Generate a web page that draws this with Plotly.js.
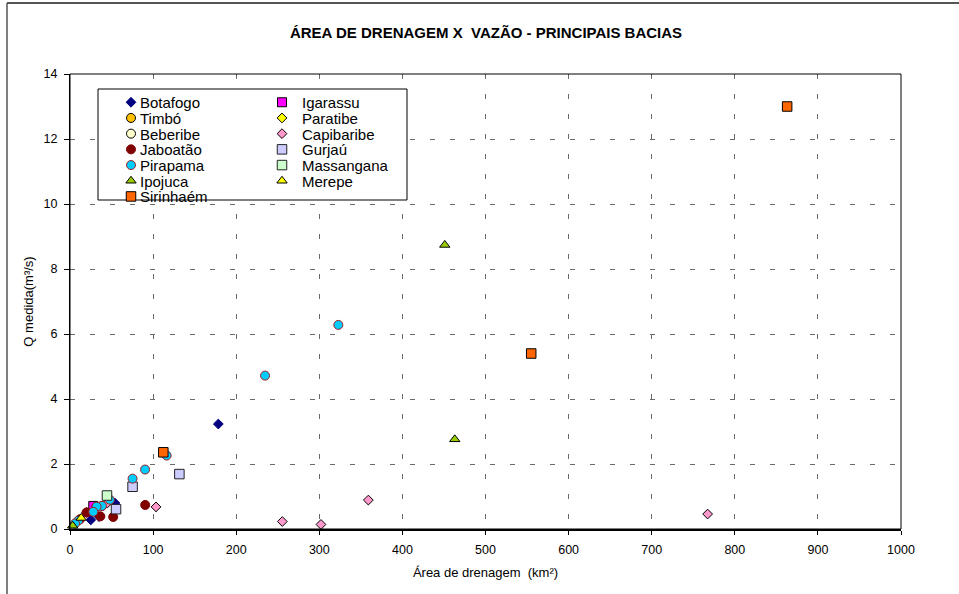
<!DOCTYPE html>
<html>
<head>
<meta charset="utf-8">
<script src="https://cdn.plot.ly/plotly-3.0.1.min.js"></script>
<style>
  html, body { margin: 0; padding: 0; background: #fff; }
  #chart { width: 959px; height: 594px; }
</style>
</head>
<body>
<div id="chart"></div>
<script>
// ---- Data (área de drenagem km², vazão medida m³/s) ----
const seriesNames = ["Botafogo","Igarassu","Timbó","Paratibe","Beberibe","Capibaribe","Jaboatão","Gurjaú","Pirapama","Massangana","Ipojuca","Merepe","Sirinhaém"];

const botafogoX   = [178.5, 54, 25, 35];
const botafogoY   = [3.23, 0.80, 0.28, 0.38];
const igarassuX   = [28];
const igarassuY   = [0.71];
const timboX      = [32];
const timboY      = [0.69];
const paratibeX   = [20];
const paratibeY   = [0.51];
const beberibeX   = [38.5];
const beberibeY   = [0.71];
const capibaribeX = [103.5, 255.5, 302, 359, 767.3, 45];
const capibaribeY = [0.68, 0.23, 0.14, 0.89, 0.46, 0.80];
const jaboataoX   = [90.5, 52, 36.5, 20, 12];
const jaboataoY   = [0.74, 0.37, 0.39, 0.51, 0.30];
const gurjauX     = [131.6, 75.3, 55.4];
const gurjauY     = [1.69, 1.30, 0.61];
const pirapamaX   = [322.9, 234.7, 116.3, 90.3, 75.3, 48, 38.5, 32, 28, 10, 6];
const pirapamaY   = [6.28, 4.72, 2.26, 1.83, 1.55, 0.90, 0.71, 0.69, 0.53, 0.26, 0.17];
const massanganaX = [44.5];
const massanganaY = [1.03];
const ipojucaX    = [451, 463, 3.2];
const ipojucaY    = [8.74, 2.76, 0.10];
const merepeX     = [13.5];
const merepeY     = [0.34];
const sirinhaemX  = [863, 555, 112.3];
const sirinhaemY  = [13.0, 5.40, 2.36];

const xTickVals = [0,100,200,300,400,500,600,700,800,900,1000];
const yTickVals = [0,2,4,6,8,10,12,14];

// ---- Styles ----
const FONT = "Liberation Sans, Arial, Helvetica, sans-serif";
function tr(name, x, y, symbol, size, color, lineColor, legendId) {
  return {
    type: "scatter", mode: "markers", name: name, x: x, y: y,
    legend: legendId,
    marker: { symbol: symbol, size: size, color: color, line: { color: lineColor, width: 1 } },
    cliponaxis: false
  };
}
const traces = [
  tr(seriesNames[0],  botafogoX,   botafogoY,   "diamond",     7.5, "#000080", "#000080", "legend"),
  tr(seriesNames[1],  igarassuX,   igarassuY,   "square",      9,   "#FF00FF", "#000000", "legend2"),
  tr(seriesNames[2],  timboX,      timboY,      "circle",      9,   "#FFC000", "#000000", "legend"),
  tr(seriesNames[3],  paratibeX,   paratibeY,   "diamond",     7.5, "#FFFF00", "#000000", "legend2"),
  tr(seriesNames[4],  beberibeX,   beberibeY,   "circle",      9,   "#FFFFCC", "#000000", "legend"),
  tr(seriesNames[5],  capibaribeX, capibaribeY, "diamond",     7.5, "#FF99CC", "#000000", "legend2"),
  tr(seriesNames[6],  jaboataoX,   jaboataoY,   "circle",      9,   "#800000", "#800000", "legend"),
  tr(seriesNames[7],  gurjauX,     gurjauY,     "square",      9.5, "#CCCCFF", "#222222", "legend2"),
  tr(seriesNames[8],  pirapamaX,   pirapamaY,   "circle",      9,   "#00CCFF", "#A02020", "legend"),
  tr(seriesNames[9],  massanganaX, massanganaY, "square",      9.5, "#CCFFCC", "#222222", "legend2"),
  tr(seriesNames[10], ipojucaX,    ipojucaY,    "triangle-up", 9,   "#99CC00", "#000000", "legend"),
  tr(seriesNames[11], merepeX,     merepeY,     "triangle-up", 9,   "#FFFF00", "#000000", "legend2"),
  tr(seriesNames[12], sirinhaemX,  sirinhaemY,  "square",      9.5, "#FF6600", "#000000", "legend")
];

// plot area in px: x 70..901, y 74..529
const PL = 70, PR = 901, PT = 74, PB = 529;
const px2x = p => (p - PL) / (PR - PL);
const px2y = p => (PB - p) / (PB - PT);

const gridStyle = { showgrid: true, gridcolor: "#6a6a6a", gridwidth: 1, griddash: "5px,15px" };

const layout = {
  width: 959, height: 594,
  margin: { l: PL, r: 959 - PR, t: PT, b: 594 - PB, pad: 0 },
  paper_bgcolor: "#ffffff", plot_bgcolor: "#ffffff",
  font: { family: FONT, size: 12, color: "#000000" },
  showlegend: true,
  title: {
    text: "<b>ÁREA DE DRENAGEM X  VAZÃO - PRINCIPAIS BACIAS</b>",
    font: { family: FONT, size: 15, color: "#000000" },
    x: px2x(486), xref: "paper", xanchor: "center",
    y: 1 - 33 / 594, yref: "container", yanchor: "middle"
  },
  xaxis: Object.assign({
    range: [0, 1000], tickvals: xTickVals, ticktext: xTickVals.map(String),
    ticks: "outside", ticklen: 4, tickcolor: "#000", tickwidth: 1, ticklabelstandoff: 4,
    showline: true, linecolor: "#000000", linewidth: 2,
    zeroline: false, automargin: false,
    tickfont: { family: FONT, size: 12.5, color: "#000" },
    title: { text: "Área de drenagem  (km²)", font: { family: FONT, size: 13, color: "#000" }, standoff: 12 }
  }, gridStyle),
  yaxis: Object.assign({
    range: [0, 14], tickvals: yTickVals, ticktext: yTickVals.map(String),
    ticks: "outside", ticklen: 5, tickcolor: "#000", tickwidth: 1, ticklabelstandoff: 4,
    showline: true, linecolor: "#000000", linewidth: 1,
    zeroline: false, automargin: false,
    tickfont: { family: FONT, size: 12.5, color: "#000" },
    title: { text: "Q medida(m³/s)", font: { family: FONT, size: 13, color: "#000" }, standoff: 7 }
  }, gridStyle),
  legend: {
    x: px2x(111), xanchor: "left", y: px2y(86), yanchor: "top",
    bgcolor: "rgba(0,0,0,0)", borderwidth: 0,
    font: { family: FONT, size: 15, color: "#000" }, traceorder: "normal"
  },
  legend2: {
    x: px2x(262), xanchor: "left", y: px2y(86), yanchor: "top",
    bgcolor: "rgba(0,0,0,0)", borderwidth: 0,
    font: { family: FONT, size: 15, color: "#000" }, traceorder: "normal"
  },
  shapes: [
    // plot frame (top & right)
    { type: "rect", xref: "paper", yref: "paper", x0: 0, x1: 1, y0: 0, y1: 1,
      line: { color: "#000000", width: 1 }, layer: "above" },
    // legend box
    { type: "rect", xref: "paper", yref: "paper",
      x0: px2x(98), x1: px2x(407), y0: px2y(200), y1: px2y(89),
      line: { color: "#000000", width: 1 }, fillcolor: "#ffffff", layer: "above" },
    // outer chart border (left & top)
    { type: "line", xref: "paper", yref: "paper",
      x0: px2x(7), x1: px2x(7), y0: px2y(3), y1: px2y(600),
      line: { color: "#000000", width: 1 } },
    { type: "line", xref: "paper", yref: "paper",
      x0: px2x(7), x1: px2x(965), y0: px2y(3), y1: px2y(3),
      line: { color: "#555555", width: 2 } }
  ]
};

const gd = document.getElementById("chart");
Plotly.newPlot(gd, traces, layout, { staticPlot: true, displayModeBar: false }).then(() => {
  // compact the legend rows like the original
  const SP = 15.7, TX = 29;
  gd.querySelectorAll("g.infolayer > g").forEach(lg => {
    const cls = lg.getAttribute("class") || "";
    if (!/^legend\d*$/.test(cls)) return;
    let y0 = null;
    lg.querySelectorAll("g.traces").forEach((it, i) => {
      const m = /translate\(\s*([-\d.e]+)[\s,]*([-\d.e]+)?\s*\)/.exec(it.getAttribute("transform") || "");
      if (!m) return;
      const x = parseFloat(m[1]), y = parseFloat(m[2] || 0);
      if (y0 === null) y0 = y;
      it.setAttribute("transform", "translate(" + x + "," + (y0 + i * SP) + ")");
      const t = it.querySelector("text.legendtext");
      if (t) t.setAttribute("x", TX);
    });
  });
});
</script>
</body>
</html>
